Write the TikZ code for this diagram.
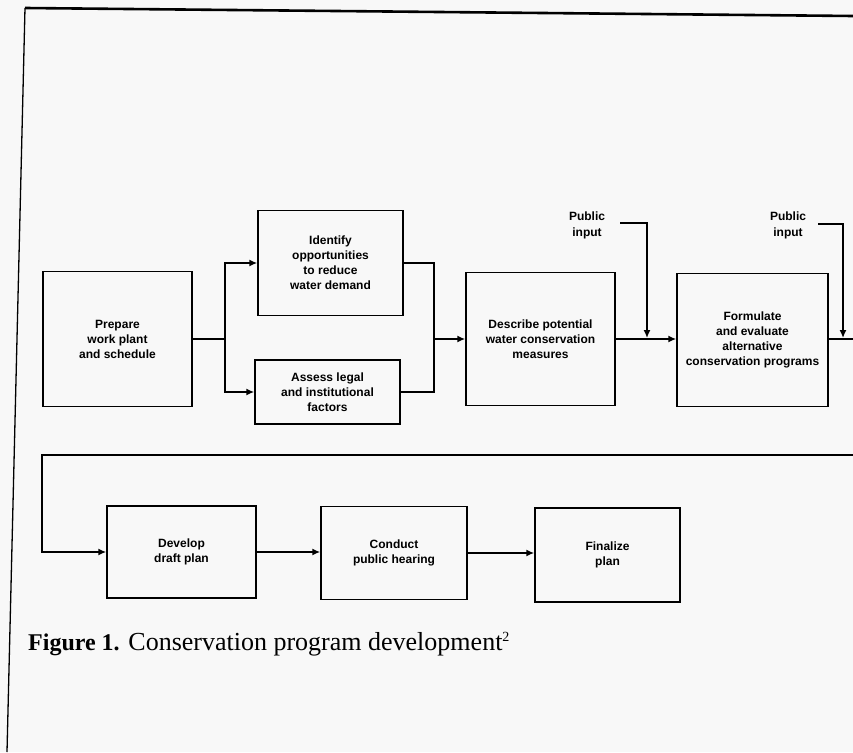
\documentclass[tikz,border=0pt]{standalone}
\usepackage{fontspec}
\setmainfont{Liberation Serif}
\newfontfamily\boxfont{Liberation Sans}
\usetikzlibrary{arrows.meta,calc}
\definecolor{paper}{RGB}{248,248,248}
\tikzset{
  box/.style={draw, line width=1.5pt, align=center, inner sep=0pt,
    font=\boxfont\bfseries\fontsize{12}{15}\selectfont},
  pubtext/.style={align=center, inner sep=0pt,
    font=\boxfont\bfseries\fontsize{12}{16}\selectfont},
  conn/.style={line width=1.5pt},
  arr/.style={conn, -{Latex[length=8pt,width=7pt]}},
}
\begin{document}
\begin{tikzpicture}[x=1pt,y=-1pt]
\fill[paper] (0,0) rectangle (853,752);
\useasboundingbox (0,0) rectangle (853,752);
\clip (0,0) rectangle (853,752);
% scanned frame
\coordinate (fbl) at (7,752);
\coordinate (ftl) at (25,8);
\coordinate (ftr) at (853,16);
\draw[line width=1.3pt] (fbl) -- (ftl);
\draw[line width=2.6pt] (ftl) -- (ftr);
% boxes
\node[box, minimum width=149pt, minimum height=135pt] (prep) at (117.5,339) {Prepare\\work plant\\and schedule};
\node[box, minimum width=145pt, minimum height=105pt] (ident) at (330.5,263) {Identify\\opportunities\\to reduce\\water demand};
\node[box, minimum width=145pt, minimum height=64pt] (assess) at (327.5,392) {Assess legal\\and institutional\\factors};
\node[box, minimum width=149pt, minimum height=133pt] (desc) at (540.5,339) {Describe potential\\water conservation\\measures};
\node[box, minimum width=151pt, minimum height=133pt] (form) at (752.5,340) {Formulate\\and evaluate\\alternative\\conservation programs};
\node[box, minimum width=149pt, minimum height=92pt] (dev) at (181.5,552) {Develop\\draft plan};
\node[box, minimum width=146pt, minimum height=93pt] (cond) at (394,553) {Conduct\\public hearing};
\node[box, minimum width=145pt, minimum height=94pt] (fin) at (607.5,555) {Finalize\\plan};
\node[pubtext] (pub1) at (587,225) {Public\\input};
\node[pubtext] (pub2) at (788,225) {Public\\input};
% connectors
\coordinate (s1) at (225,339);
\coordinate (m1) at (434,339);
\draw[conn] (prep.east) -- (s1);
\draw[arr] (s1) |- (ident.west);
\draw[arr] (s1) |- (assess.west);
\draw[conn] (ident.east) -| (m1);
\draw[conn] (assess.east) -| (m1);
\draw[arr] (m1) -- (desc.west);
\draw[arr] (desc.east) -- (desc.east -| form.west);
\coordinate (p1a) at (620,223);
\coordinate (p1b) at (647,223);
\coordinate (p1c) at (647,338);
\draw[arr] (p1a) -- (p1b) -- (p1c);
\coordinate (p2a) at (818,224);
\coordinate (p2b) at (843,224);
\coordinate (p2c) at (843,338);
\draw[arr] (p2a) -- (p2b) -- (p2c);
\coordinate (r1) at (880,339);
\coordinate (r2) at (880,455);
\coordinate (r3) at (42,455);
\draw[arr] (form.east |- r1) -- (r1) -- (r2) -- (r3) |- (dev.west);
\draw[arr] (dev.east) -- (dev.east -| cond.west);
\draw[arr] (cond.east) -- (cond.east -| fin.west);
% caption
\node[anchor=base west, inner sep=0pt, font=\fontsize{26}{30}\selectfont] (cap) at (28,650) {{\fontsize{24}{28}\selectfont\bfseries Figure 1.} Conservation program development{\fontsize{14}{16}\selectfont\raisebox{9pt}{2}}};
\end{tikzpicture}
\end{document}
